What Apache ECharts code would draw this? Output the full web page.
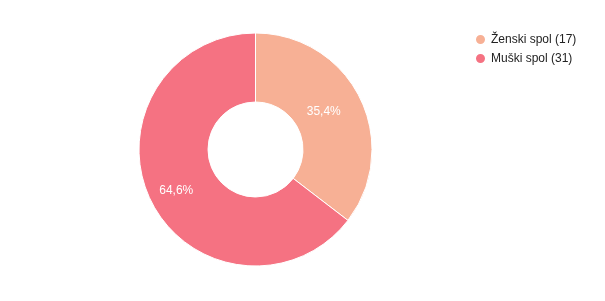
<!DOCTYPE html>
<html>
<head>
<meta charset="utf-8">
<script src="https://cdn.jsdelivr.net/npm/echarts@6/dist/echarts.min.js"></script>
<style>
html,body{margin:0;padding:0;background:#fff;}
#main{width:605px;height:301px;}
</style>
</head>
<body>
<div id="main"></div>
<script>
var categories = ['Ženski spol', 'Muški spol'];
var counts = [17, 31];
var colors = ['#f7b095', '#f57282'];
var labelOffsets = [[-8, 0], [-3, 4]];

var total = counts.reduce(function(a,b){return a+b;},0);
var data = categories.map(function(c,i){
  return { name: c + ' (' + counts[i] + ')', value: counts[i], itemStyle:{color:colors[i]},
           label:{offset:labelOffsets[i]} };
});

var chart = echarts.init(document.getElementById('main'), null, {renderer:'canvas'});
chart.setOption({
  animation:false,
  legend:{
    orient:'vertical',
    left:469, top:28,
    icon:'circle',
    itemWidth:11, itemHeight:11,
    itemGap:6,
    textStyle:{fontFamily:'Liberation Sans, Arial, sans-serif', fontSize:12, color:'#222'},
    data:data.map(function(d){return d.name;})
  },
  series:[{
    type:'pie',
    center:[255.5,149.5],
    radius:[47.5,116.5],
    startAngle:90,
    clockwise:true,
    avoidLabelOverlap:false,
    itemStyle:{borderColor:'#fff', borderWidth:1},
    label:{
      show:true,
      position:'inside',
      color:'#fff',
      fontFamily:'Liberation Sans, Arial, sans-serif',
      fontSize:12,
      formatter:function(p){ return (p.value/total*100).toFixed(1).replace('.',',') + '%'; }
    },
    labelLine:{show:false},
    emphasis:{disabled:true},
    data:data
  }]
});
</script>
</body>
</html>
